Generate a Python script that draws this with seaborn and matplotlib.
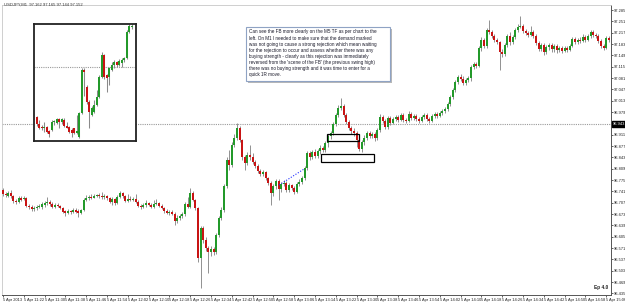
import matplotlib
matplotlib.use('Agg')
import numpy as np
import pandas as pd
import seaborn as sns
import matplotlib.pyplot as plt
from matplotlib.patches import Rectangle

sns.set_theme(style='white')
plt.rcParams['font.family'] = ['Liberation Sans', 'DejaVu Sans']

# ---------------- main M1 chart (prices in 1/1000 yen) ----------------
opens = [96745,96733,96727,96736,96727,96712,96709,96721,96718,96721,96697,96694,96688,96691,96694,96694,96700,96706,96709,96703,
         96694,96700,96697,96691,96682,96676,96682,96679,96685,96682,96676,96685,96715,96721,96724,96721,96727,96730,96727,96724,
         96727,96721,96709,96718,96706,96724,96736,96727,96712,96718,96715,96718,96709,96697,96694,96700,96706,96700,96694,96703,
         96706,96697,96691,96682,96676,96679,96673,96652,96661,96667,96673,96703,96694,96736,96715,96691,96541,96631,96595,96571,
         96559,96568,96559,96610,96661,96685,96757,96835,96820,96880,96901,96931,96895,96844,96826,96850,96844,96829,96817,96802,
         96793,96799,96781,96766,96736,96757,96772,96748,96763,96766,96745,96760,96751,96739,96763,96769,96781,96811,96856,96844,
         96859,96847,96862,96871,96865,96886,96907,96916,96943,96970,96991,96997,96970,96949,96931,96922,96916,96895,96868,96889,
         96901,96916,96907,96913,96901,96925,96964,96952,96934,96961,96946,96958,96964,96955,96970,96955,96952,96973,96961,96967,
         96958,96952,96964,96970,96958,96952,96967,96973,96967,96976,96982,96988,97003,97024,97045,97069,97084,97078,97066,97075,
         97081,97114,97123,97117,97171,97195,97177,97225,97219,97207,97195,97189,97159,97153,97180,97207,97189,97204,97225,97234,
         97237,97222,97216,97210,97219,97207,97186,97168,97180,97159,97174,97180,97168,97177,97165,97171,97162,97171,97165,97177,
         97198,97189,97195,97192,97204,97195,97207,97219,97210,97207,97192,97177,97171,97201]
highs = [96751,96739,96742,96745,96730,96718,96727,96727,96727,96724,96703,96700,96697,96700,96703,96709,96712,96724,96715,96709,
         96706,96706,96700,96694,96685,96688,96685,96691,96691,96688,96688,96721,96730,96730,96733,96733,96733,96736,96739,96733,
         96730,96724,96724,96721,96730,96742,96739,96730,96733,96727,96724,96733,96715,96703,96706,96715,96709,96706,96715,96718,
         96709,96703,96694,96688,96685,96685,96679,96670,96673,96679,96709,96724,96751,96742,96718,96694,96637,96637,96604,96577,
         96577,96574,96616,96667,96694,96763,96844,96865,96889,96913,96946,96937,96898,96850,96859,96880,96856,96835,96823,96808,
         96805,96802,96784,96772,96763,96778,96778,96769,96775,96772,96766,96763,96757,96769,96778,96787,96817,96862,96862,96865,
         96868,96868,96880,96877,96892,96913,96922,96949,96976,97000,97021,97003,96976,96955,96937,96931,96922,96901,96895,96910,
         96922,96922,96919,96919,96931,96973,96970,96958,96967,96967,96964,96970,96970,96976,96976,96961,96982,96979,96973,96973,
         96964,96970,96976,96976,96964,96973,96979,96979,96982,96988,96994,97009,97030,97051,97075,97090,97093,97087,97081,97087,
         97120,97129,97129,97177,97204,97201,97231,97255,97225,97213,97201,97192,97168,97186,97213,97219,97210,97231,97243,97267,
         97243,97228,97222,97237,97225,97213,97192,97186,97186,97180,97186,97186,97183,97183,97177,97177,97177,97177,97183,97204,
         97204,97201,97204,97213,97210,97213,97225,97225,97216,97213,97198,97183,97207,97207]
lows = [96727,96724,96724,96721,96706,96703,96706,96712,96715,96694,96688,96682,96682,96685,96691,96688,96694,96700,96697,96691,
        96691,96694,96688,96676,96667,96673,96673,96676,96676,96664,96673,96682,96712,96715,96718,96721,96724,96721,96718,96718,
        96715,96706,96700,96700,96703,96721,96721,96709,96709,96712,96712,96706,96694,96688,96691,96694,96697,96691,96691,96700,
        96694,96688,96676,96673,96670,96670,96640,96646,96655,96661,96667,96691,96691,96712,96685,96529,96451,96586,96562,96496,
        96547,96550,96553,96604,96655,96679,96751,96805,96814,96874,96895,96889,96835,96805,96820,96835,96823,96811,96796,96787,
        96787,96775,96760,96700,96727,96748,96715,96739,96757,96739,96739,96745,96733,96736,96757,96763,96775,96805,96835,96838,
        96841,96841,96853,96859,96859,96874,96898,96910,96937,96964,96985,96964,96943,96925,96913,96907,96874,96862,96859,96880,
        96895,96901,96901,96892,96895,96919,96946,96928,96928,96940,96943,96952,96949,96952,96949,96946,96949,96955,96955,96952,
        96946,96949,96958,96952,96946,96949,96961,96961,96964,96970,96976,96982,96997,97018,97039,97063,97072,97060,97060,97069,
        97072,97108,97111,97114,97162,97171,97171,97213,97201,97189,97183,97105,97144,97147,97174,97180,97183,97198,97219,97231,
        97216,97210,97204,97207,97201,97180,97162,97162,97150,97153,97165,97159,97159,97156,97159,97156,97159,97159,97162,97174,
        97183,97183,97186,97189,97189,97192,97201,97204,97201,97186,97171,97165,97168,97189]
closes = [96733,96730,96736,96727,96712,96709,96721,96715,96721,96697,96694,96688,96691,96694,96697,96703,96706,96709,96703,96694,
          96700,96697,96691,96679,96676,96682,96679,96685,96679,96676,96685,96715,96721,96724,96721,96727,96729,96727,96724,96727,
          96721,96709,96718,96706,96724,96736,96727,96712,96718,96715,96718,96709,96697,96694,96700,96706,96700,96694,96703,96706,
          96697,96691,96682,96676,96679,96673,96652,96661,96667,96673,96703,96694,96736,96715,96691,96541,96631,96595,96571,96559,
          96568,96559,96610,96661,96685,96757,96835,96820,96880,96901,96931,96895,96844,96826,96850,96844,96829,96817,96802,96793,
          96799,96781,96766,96736,96757,96772,96748,96763,96766,96745,96760,96751,96739,96763,96769,96781,96811,96856,96844,96859,
          96847,96862,96871,96865,96886,96907,96916,96943,96970,96991,96997,96970,96949,96931,96922,96916,96895,96868,96889,96901,
          96916,96907,96913,96901,96925,96964,96952,96934,96961,96946,96958,96964,96955,96970,96955,96952,96973,96961,96967,96958,
          96952,96964,96970,96958,96952,96967,96973,96967,96976,96982,96988,97003,97024,97045,97069,97084,97078,97066,97075,97081,
          97114,97123,97117,97171,97195,97177,97225,97219,97207,97195,97189,97159,97153,97180,97207,97189,97204,97225,97234,97237,
          97222,97216,97210,97219,97207,97186,97168,97180,97159,97174,97180,97168,97177,97165,97171,97162,97171,97165,97177,97198,
          97189,97195,97192,97204,97195,97207,97219,97210,97207,97192,97177,97171,97201,97195]

first_minute = 11 * 60 + 14          # 5 Apr 2013 11:14, one bar per minute
tick_every = 8
price_ticks = [97.285 - 0.034 * k for k in range(26)]
hline_level = 96.943
box_demand = (124.6, 136.9, 96.892, 96.913)
box_zone = (122.3, 142.7, 96.829, 96.853)
trend_x = [106.2, 115.8]
trend_y = [96.760, 96.808]

# ---------------- inset M5 chart ----------------
in_open = [96484,96400,96364,96352,96364,96316,96328,96424,96412,96460,96424,96448,96376,96364,96328,96352,96292,96244,96532,97048,
           96844,96664,96508,96544,96628,96724,96964,97228,96988,96964,97048,97108,97144,97108,97132,97168,97192,97504,97564]
in_high = [96496,96448,96388,96424,96376,96328,96448,96448,96472,96472,96472,96472,96424,96376,96352,96352,96508,96544,97072,97072,
           96868,96688,96616,96688,96808,96988,97264,97240,97000,97084,97144,97168,97156,97180,97192,97204,97528,97600,97600]
in_low = [96376,96340,96328,96304,96292,96244,96316,96388,96400,96352,96400,96364,96352,96292,96244,96280,96280,96232,96520,96736,
          96640,96352,96496,96532,96616,96712,96952,96940,96784,96868,97036,97072,97084,97096,97084,97144,97180,97492,97540]
in_close = [96400,96352,96352,96364,96304,96280,96424,96436,96460,96424,96460,96376,96352,96304,96292,96292,96316,96532,97048,97024,
            96664,96544,96592,96628,96724,96964,97228,96964,96952,97072,97108,97144,97108,97156,97168,97192,97504,97576,97576]
in_level = 97.084

note = ("Can see the FB more clearly on the M5 TF as per chart to the\n"
        "left. On M1 I needed to make sure that the demand marked\n"
        "was not going to cause a strong rejection which mean waiting\n"
        "for the rejection to occur and assess whether there was any\n"
        "buying strength - clearly as this rejection was immediately\n"
        "reversed from the 'scene of the FB' (the previous swing high)\n"
        "there was no buying strength and it was time to enter for a\n"
        "quick 1R move.")
title = "USDJPY,M1  97.162 97.165 97.144 97.152"

W, H = 625, 303
fig = plt.figure(figsize=(W / 100, H / 100), dpi=100)
fig.patch.set_facecolor('white')

def fx(px):
    return px / W

def fy(py):
    return 1 - py / H

BULL, BEAR, WICK = '#23992a', '#c81414', '#8a8a8a'

def candles(ax, o, h, l, c, width, wick_lw):
    df = pd.DataFrame({'open': o, 'high': h, 'low': l, 'close': c}) / 1000.0
    df['x'] = np.arange(len(df))
    df['up'] = df['close'] >= df['open']
    ax.vlines(df['x'], df['low'], df['high'], color=WICK, lw=wick_lw, zorder=2)
    body = (df['close'] - df['open']).abs().clip(lower=0.0018)
    bottom = df[['open', 'close']].min(axis=1)
    for up, col in ((True, BULL), (False, BEAR)):
        m = df['up'] == up
        ax.bar(df['x'][m], body[m], bottom=bottom[m], width=width, color=col,
               linewidth=0, zorder=3)
    return df

# main axes: plot area px x 2..611, y 5..295
TOP, BOT = 5, 295
ax = fig.add_axes([fx(2), fy(BOT), fx(609), (BOT - TOP) / H])
ax.set_facecolor('white')
df = candles(ax, opens, highs, lows, closes, 0.8, 0.65)
ax.set_xlim(-0.38, -0.38 + 609 / 2.6)
ax.set_ylim(97.315 - 0.003 * BOT, 97.315 - 0.003 * TOP)

# dotted horizontal line
ax.axhline(hline_level, color='#9a9a9a', lw=0.8, ls=(0, (1, 1)), zorder=1)

# rectangles
for (x0, x1, y0, y1), lw in ((box_demand, 0.9), (box_zone, 0.9)):
    ax.add_patch(Rectangle((x0, y0), x1 - x0, y1 - y0, fill=False,
                           edgecolor='black', lw=lw, zorder=4))
sns.lineplot(x=trend_x, y=trend_y, ax=ax, color='#2030ff', lw=0.8,
             linestyle=(0, (1, 1.5)), zorder=4)

# axes styling
for s in ('left', 'top'):
    ax.spines[s].set_color('#c8c8c8')
    ax.spines[s].set_linewidth(0.6)
for s in ('right', 'bottom'):
    ax.spines[s].set_color('#555555')
    ax.spines[s].set_linewidth(0.7)

xt = list(range(0, len(df), tick_every))
labels = []
for i in xt:
    mnt = first_minute + i
    labels.append('5 Apr 2013' if i == 0 else f'5 Apr {mnt // 60}:{mnt % 60:02d}')
ax.set_xticks(xt)
ax.set_xticklabels(labels, fontsize=2.9, ha='left')
ax.tick_params(axis='x', length=1.5, width=0.5, pad=0.3, colors='#222222', direction='out',
               bottom=True)
ax.yaxis.tick_right()
yt = [p for p in price_ticks if abs(p - hline_level) > 0.006]
ax.set_yticks(yt)
ax.set_yticklabels([f'{p:.3f}' for p in yt], fontsize=2.9)
ax.tick_params(axis='y', length=1.5, width=0.5, pad=0.5, colors='#222222', direction='out',
               right=True, left=False)
ax.text(1.003, hline_level, f'{hline_level:.3f}', transform=ax.get_yaxis_transform(),
        fontsize=2.9, color='white', va='center', ha='left',
        bbox=dict(boxstyle='square,pad=0.2', fc='black', ec='black'), zorder=6,
        clip_on=False)
ax.text(0.972, 0.018, 'Ep 4.0', transform=ax.transAxes, fontsize=3.4,
        fontweight='bold', ha='left', va='bottom', color='#222222')
ax.grid(False)

# title text inside chart
fig.text(fx(4), fy(4.5), title, fontsize=3.0, color='#333333', va='center', ha='left')

# inset M5 chart
ax2 = fig.add_axes([fx(34), fy(141), fx(102), (141 - 24) / H], zorder=5)
ax2.set_facecolor('white')
candles(ax2, in_open, in_high, in_low, in_close, 0.8, 0.75)
ax2.axhline(in_level, color='#9a9a9a', lw=0.8, ls=(0, (1, 1)), zorder=1)
ax2.set_xlim(-1.0, -1.0 + 102 / 2.5)
ax2.set_ylim((97888 - 12 * 141) / 1000, (97888 - 12 * 24) / 1000)
ax2.set_xticks([])
ax2.set_yticks([])
for s in ax2.spines.values():
    s.set_color('#222222')
    s.set_linewidth(1.3)

# annotation box with shadow
fig.patches.append(Rectangle((fx(248), fy(83)), fx(144), (83 - 29) / H, transform=fig.transFigure,
                             fc='#b8b8b8', ec='none', zorder=7))
fig.patches.append(Rectangle((fx(246), fy(81)), fx(144), (81 - 27) / H, transform=fig.transFigure,
                             fc='white', ec='#8fa3c4', lw=0.8, zorder=8))
fig.text(fx(249), fy(29.5), note, fontsize=3.35, linespacing=1.27, color='#1a1a2a',
         va='top', ha='left', zorder=9)

fig.savefig('out.png', dpi=100, facecolor='white')
